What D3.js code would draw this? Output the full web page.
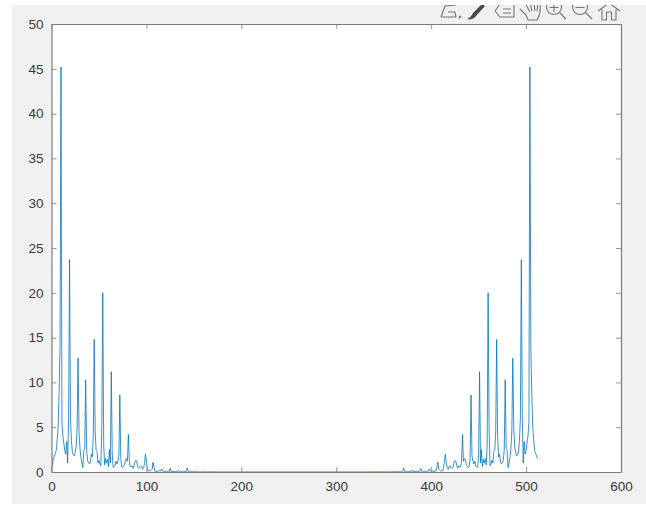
<!DOCTYPE html>
<html><head><meta charset="utf-8">
<script src="https://cdn.jsdelivr.net/npm/d3@7"></script>
<style>html,body{margin:0;padding:0;background:#fff}svg{display:block}
text{font-family:"Liberation Sans",Arial,sans-serif}</style></head>
<body><svg id="c" width="646" height="507"></svg>
<script>
const xTicks=[0,100,200,300,400,500,600];
const yTicks=[0,5,10,15,20,25,30,35,40,45,50];
const leftValues=[0.7,1.5,1.8,2.1,2.4,3.6,5.0,8.8,14,45.2,5.5,4,3.2,2.4,2.0,3.4,1.0,6,23.7,6,
3.5,2.2,1.9,1.8,2.2,2.8,5,12.7,4.5,2.6,1.6,1.0,0.5,2.4,2.6,10.3,2.5,1.3,1.0,0.9,
1.1,2.0,1.7,4,14.8,4.5,2.4,2.3,1.0,1.3,0.9,0.7,5,20,3,0.8,1.5,1.0,1.4,0.6,
2.5,1.0,11.2,2,0.5,0.6,0.7,1.2,0.9,1.2,1.8,8.6,1.5,0.6,0.5,0.7,0.8,1.4,1.5,1.2,
4.2,1.2,0.6,0.6,0.7,0.4,0.7,1.2,1.3,1.1,0.5,0.4,0.5,0.7,0.6,0.3,0.5,0.9,2.0,1.2,
0.4,0.1,0.2,0.1,0.2,0.3,1.1,0.5,0.1,0.1,0.05,0.1,0.1,0.15,0.1,0.35,0.1,0.05,0.05,0.05,
0.1,0.05,0.1,0.05,0.4,0.1,0.05,0.05,0.03,0.05,0.05,0.1,0.05,0.2,0.05,0.03,0.05,0.03,0.03,0.05,
0.03,0.05,0.45,0.1,0.03,0.03,0.02,0.03,0.03,0.03,0.03,0.15,0.05,0.02,0.02,0.02,0.02,0.02,0.03,0.12,
0.03,0.02,0.02,0.02,0.01,0.02,0.02,0.02,0.02,0.02,0.02,0.02,0.02,0.01,0.02,0.02,0.01,0.01,0.02,0.01,
0.01,0.01,0.01,0.01,0.01,0.01,0.01,0.01,0.01,0.01,0.01,0.01,0.01,0.01,0.01,0.01,0.01,0.01,0.01,0.01,
0.01,0.01,0.01,0.01,0.01,0.01,0.01,0.01,0.01,0.01,0.01,0.01,0.01,0.01,0.01,0.01,0.01,0.01,0.01,0.01,
0.01,0.01,0.01,0.01,0.01,0.01,0.01,0.01,0.01,0.01,0.01,0.01,0.01,0.01,0.01,0.01,0.01,0.01,0.01,0.01,
0.01,0.01,0.01,0.01,0.01,0.01,0.01,0.01,0.01,0.01,0.01,0.01,0.01,0.01,0.01,0.01];
const rightValues=[0.01,0.01,0.01,0.01,0.01,0.01,0.01,0.01,0.01,0.01,0.01,0.01,0.01,0.01,0.01,0.01,0.01,0.01,0.01,0.01,
0.01,0.01,0.01,0.01,0.01,0.01,0.01,0.01,0.01,0.01,0.01,0.01,0.01,0.01,0.01,0.01,0.01,0.01,0.01,0.01,
0.01,0.01,0.01,0.01,0.01,0.01,0.01,0.01,0.01,0.01,0.01,0.01,0.01,0.01,0.01,0.01,0.01,0.01,0.01,0.01,
0.01,0.01,0.01,0.01,0.01,0.01,0.01,0.01,0.01,0.01,0.01,0.01,0.01,0.01,0.01,0.01,0.01,
0.01,0.02,0.01,0.01,0.02,0.02,0.01,0.02,0.02,0.02,0.02,0.02,0.02,0.02,0.02,0.01,0.02,0.02,0.02,0.03,
0.12,0.03,0.02,0.02,0.02,0.02,0.02,0.05,0.15,0.03,0.03,0.03,0.03,0.02,0.03,0.03,0.1,0.45,0.05,0.03,
0.05,0.03,0.03,0.05,0.03,0.05,0.2,0.05,0.1,0.05,0.05,0.03,0.05,0.05,0.1,0.4,0.05,0.1,0.05,0.1,
0.05,0.05,0.05,0.1,0.35,0.1,0.15,0.1,0.1,0.05,0.1,0.1,0.5,1.1,0.3,0.2,0.1,0.2,0.1,0.4,
1.2,2.0,0.9,0.5,0.3,0.6,0.7,0.5,0.4,0.5,1.1,1.3,1.2,0.7,0.4,0.7,0.6,0.6,1.2,4.2,
1.2,1.5,1.4,0.8,0.7,0.5,0.6,1.5,8.6,1.8,1.2,0.9,1.2,0.7,0.6,0.5,2,11.2,1.0,2.5,
0.6,1.4,1.0,1.5,0.8,3,20,5,0.7,0.9,1.3,1.0,2.3,2.4,4.5,14.8,4,1.7,2.0,1.1,
0.9,1.0,1.3,2.5,10.3,2.6,2.4,0.5,1.0,1.6,2.6,4.5,12.7,5,2.8,2.2,1.8,1.9,2.2,3.5,
6,23.7,6,1.0,3.4,2.0,2.4,3.2,4,5.5,45.2,14,8.8,5.0,3.6,2.4,2.1,1.8,1.5];
const values=leftValues.concat(rightValues);

const W=646,H=507,m={l:51.5,r:621,t:24,b:472};
const svg=d3.select("#c");
svg.append("rect").attr("x",12).attr("y",5).attr("width",W-12).attr("height",499).attr("fill","#f0f0f0");
svg.append("rect").attr("x",m.l).attr("y",m.t).attr("width",m.r-m.l).attr("height",m.b-m.t).attr("fill","#fff");

const x=d3.scaleLinear().domain([0,600]).range([m.l,m.r]);
const y=d3.scaleLinear().domain([0,50]).range([m.b,m.t]);

svg.append("path").datum(values)
 .attr("fill","none").attr("stroke","#0072BD").attr("stroke-opacity",0.82).attr("stroke-width",0.95).attr("stroke-linejoin","round")
 .attr("d",d3.line().x((d,i)=>x(i+1)).y(d=>y(d)));

function style(g){
 g.selectAll("path.domain").attr("stroke","#7a7a7a").attr("stroke-width",1.2);
 g.selectAll("line").attr("stroke","#7a7a7a").attr("stroke-width",0.8);
 g.selectAll("text").attr("fill","#3a3a3a").attr("font-size",13.5);
}
const ax=svg.append("g").attr("transform",`translate(0,${m.b})`)
 .call(d3.axisBottom(x).tickValues(xTicks).tickSizeInner(-5).tickSizeOuter(0).tickPadding(9));
const ay=svg.append("g").attr("transform",`translate(${m.l},0)`)
 .call(d3.axisLeft(y).tickValues(yTicks).tickSizeInner(-5).tickSizeOuter(0).tickPadding(8));
const atop=svg.append("g").attr("transform",`translate(0,${m.t})`)
 .call(d3.axisTop(x).tickValues(xTicks).tickSizeInner(-5).tickSizeOuter(0).tickFormat(""));
const ar=svg.append("g").attr("transform",`translate(${m.r},0)`)
 .call(d3.axisRight(y).tickValues(yTicks).tickSizeInner(-5).tickSizeOuter(0).tickFormat(""));
[ax,ay,atop,ar].forEach(style);

// toolbar glyphs, cut off at the top edge of the panel as in the reference
svg.append("clipPath").attr("id","tbclip").append("rect").attr("x",430).attr("y",5).attr("width",200).attr("height",20);
const tb=svg.append("g").attr("clip-path","url(#tbclip)").attr("fill","none").attr("stroke","#757575").attr("stroke-width",1.1).attr("stroke-linejoin","round");
tb.append("path").attr("d","M441 17 L445 6 L456 5 M441 17 L456 17 L455 12 L448 12");
tb.append("path").attr("d","M459 18 l2 -2").attr("stroke-width",1.8);
tb.append("path").attr("d","M467 19 C470 18 472 15 473 13 L482 4 L485 6 L476 16 C474 19 470 20 467 19 Z").attr("fill","#4a4a4a").attr("stroke","none");
tb.append("path").attr("d","M495 11 L500 4 L514 4 L514 17 L500 17 Z M503 9 H511 M503 13 H511");
tb.append("path").attr("d","M520 9 L526 15 L528 20 L537 20 C540 15 541 11 540 4 M525 3 L530 12 M530 3 L532 11 M534 3 L535 11 M538 3 L537 11");
tb.append("circle").attr("cx",554).attr("cy",7).attr("r",7.5);
tb.append("path").attr("d","M559.5 12.5 L566 19 M549.5 7.5 H558.5 M554 3 V12");
tb.append("circle").attr("cx",580).attr("cy",7).attr("r",7.5);
tb.append("path").attr("d","M585.5 12.5 L592 19 M575.5 7.5 H584.5");
tb.append("path").attr("d","M598 11 L609 3 L620 11 M602 9 V20 H606.5 V12 H611.5 V20 H616 V9");
</script></body></html>
